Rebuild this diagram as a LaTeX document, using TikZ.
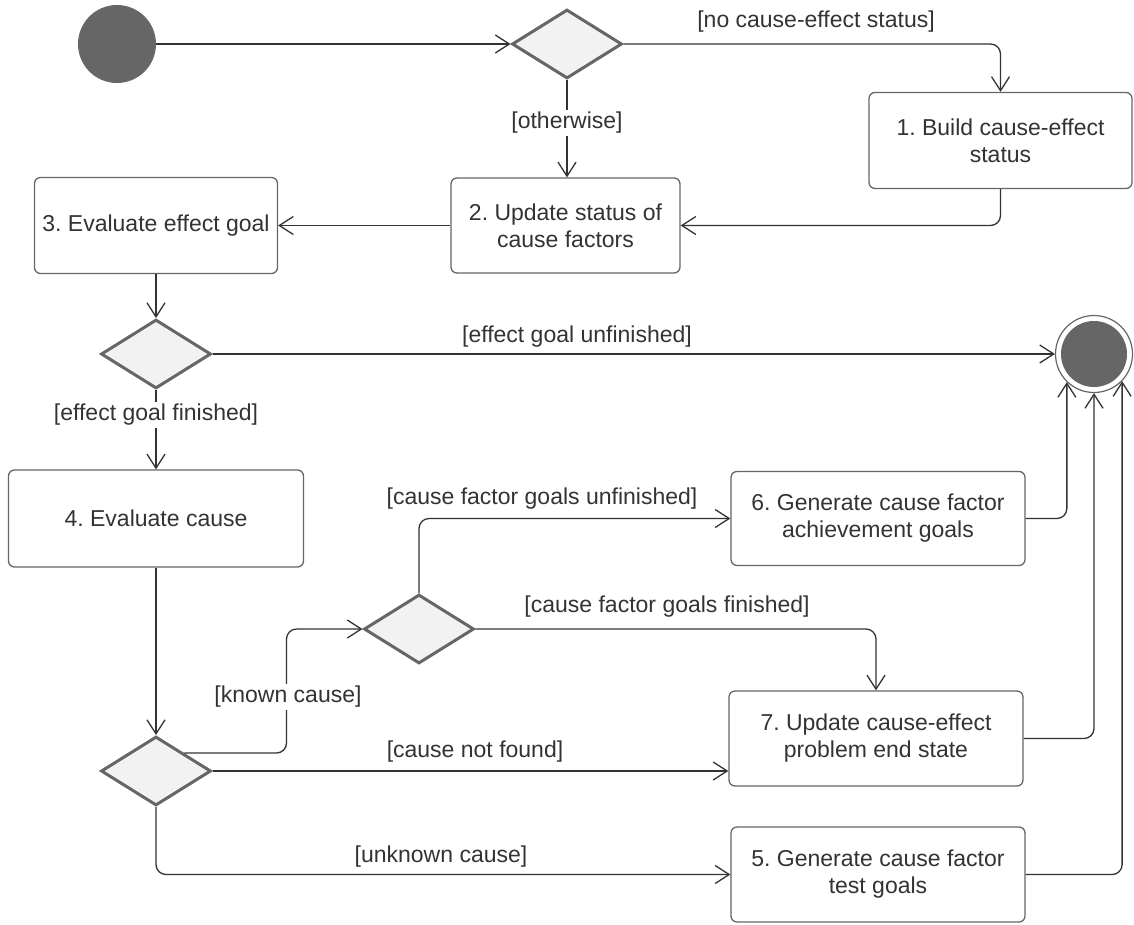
\documentclass[tikz,border=0pt]{standalone}
\usepackage{fontspec}
\setmainfont{Liberation Sans}
\usetikzlibrary{shapes.geometric,arrows.meta,calc}
\definecolor{ink}{HTML}{333333}
\definecolor{edge}{HTML}{666666}
\definecolor{dfill}{HTML}{F2F2F2}
\frenchspacing
\begin{document}
\begin{tikzpicture}[x=1pt,y=-1pt,
  every node/.style={font=\fontsize{23}{27}\selectfont, text=ink},
  act/.style={draw=edge, line width=1.3pt, rounded corners=6pt, align=center, inner sep=0pt, fill=white},
  choice/.style={diamond, draw=edge, fill=dfill, line width=3pt, inner sep=0pt,
    minimum width=110pt, minimum height=69pt},
  flow/.style={draw=ink, line width=1.3pt, rounded corners=10pt,
    -{Straight Barb[length=14pt,width=18pt]}},
  guard/.style={fill=white, inner sep=2pt},
]
\useasboundingbox (0,0) rectangle (1134,924);

% start and end of the activity
\node[circle, fill=edge, minimum size=78pt, inner sep=0pt] (start) at (117,44) {};
\node[circle, draw=edge, line width=1.2pt, minimum size=77pt, inner sep=0pt] (stop) at (1094,354) {};
\fill[edge] (stop.center) circle (33pt);

% decisions
\node[choice] (d1) at (567,44) {};
\node[choice] (d2) at (156,354) {};
\node[choice] (d3) at (419,629) {};
\node[choice] (d4) at (156,771) {};

% actions
\node[act, minimum width=263pt, minimum height=96pt] (b1) at (1000.5,140.5) {1. Build cause-effect\\status};
\node[act, minimum width=229pt, minimum height=95pt] (b2) at (565.5,225.5) {2. Update status of\\cause factors};
\node[act, minimum width=243pt, minimum height=96pt] (b3) at (156,225.5) {3. Evaluate effect goal};
\node[act, minimum width=295pt, minimum height=97pt] (b4) at (156,518.5) {4. Evaluate cause};
\node[act, minimum width=294pt, minimum height=94pt] (b6) at (878,518.5) {6. Generate cause factor\\achievement goals};
\node[act, minimum width=294pt, minimum height=95pt] (b7) at (876,738.5) {7. Update cause-effect\\problem end state};
\node[act, minimum width=294pt, minimum height=95pt] (b5) at (878,874.5) {5. Generate cause factor\\test goals};

% control flow
\draw[flow] (start) -- (d1.west);
\draw[flow] (d1.east) -| (b1.north);
\draw[flow] (d1.south) -- (d1.south |- b2.north);
\draw[flow] (b1.south) |- (b2.east);
\draw[flow] (b2.west) -- (b2.west -| b3.east);
\draw[flow] (b3.south) -- (d2.north);
\draw[flow] (d2.east) -- (stop.west);
\draw[flow] (d2.south) -- (b4.north);
\draw[flow] (b4.south) -- (d4.north);
\draw[flow] (d4.north east) -| ([xshift=-76pt]d3.west) -- (d3.west);
\draw[flow] (d4.east) -- (d4.east -| b7.west);
\draw[flow] (d4.south) |- (b5.west);
\draw[flow] (d3.north) |- (b6.west);
\draw[flow] (d3.east) -| (b7.north);
\draw[flow] (b6.east) -| (stop.226);
\draw[flow] (b7.east) -| (stop.south);
\draw[flow] (b5.east) -| (stop.316);

% guards
\node (g1) at (816,22) {[no cause-effect status]};
\node[guard] (g2) at (567,123) {[otherwise]};
\node (g3) at (577,337) {[effect goal unfinished]};
\node[guard] (g4) at (156,415) {[effect goal finished]};
\node (g5) at (542,499) {[cause factor goals unfinished]};
\node (g6) at (667,607) {[cause factor goals finished]};
\node[guard] (g7) at (288,697) {[known cause]};
\node (g8) at (475,752) {[cause not found]};
\node (g9) at (441,857) {[unknown cause]};
\end{tikzpicture}
\end{document}
